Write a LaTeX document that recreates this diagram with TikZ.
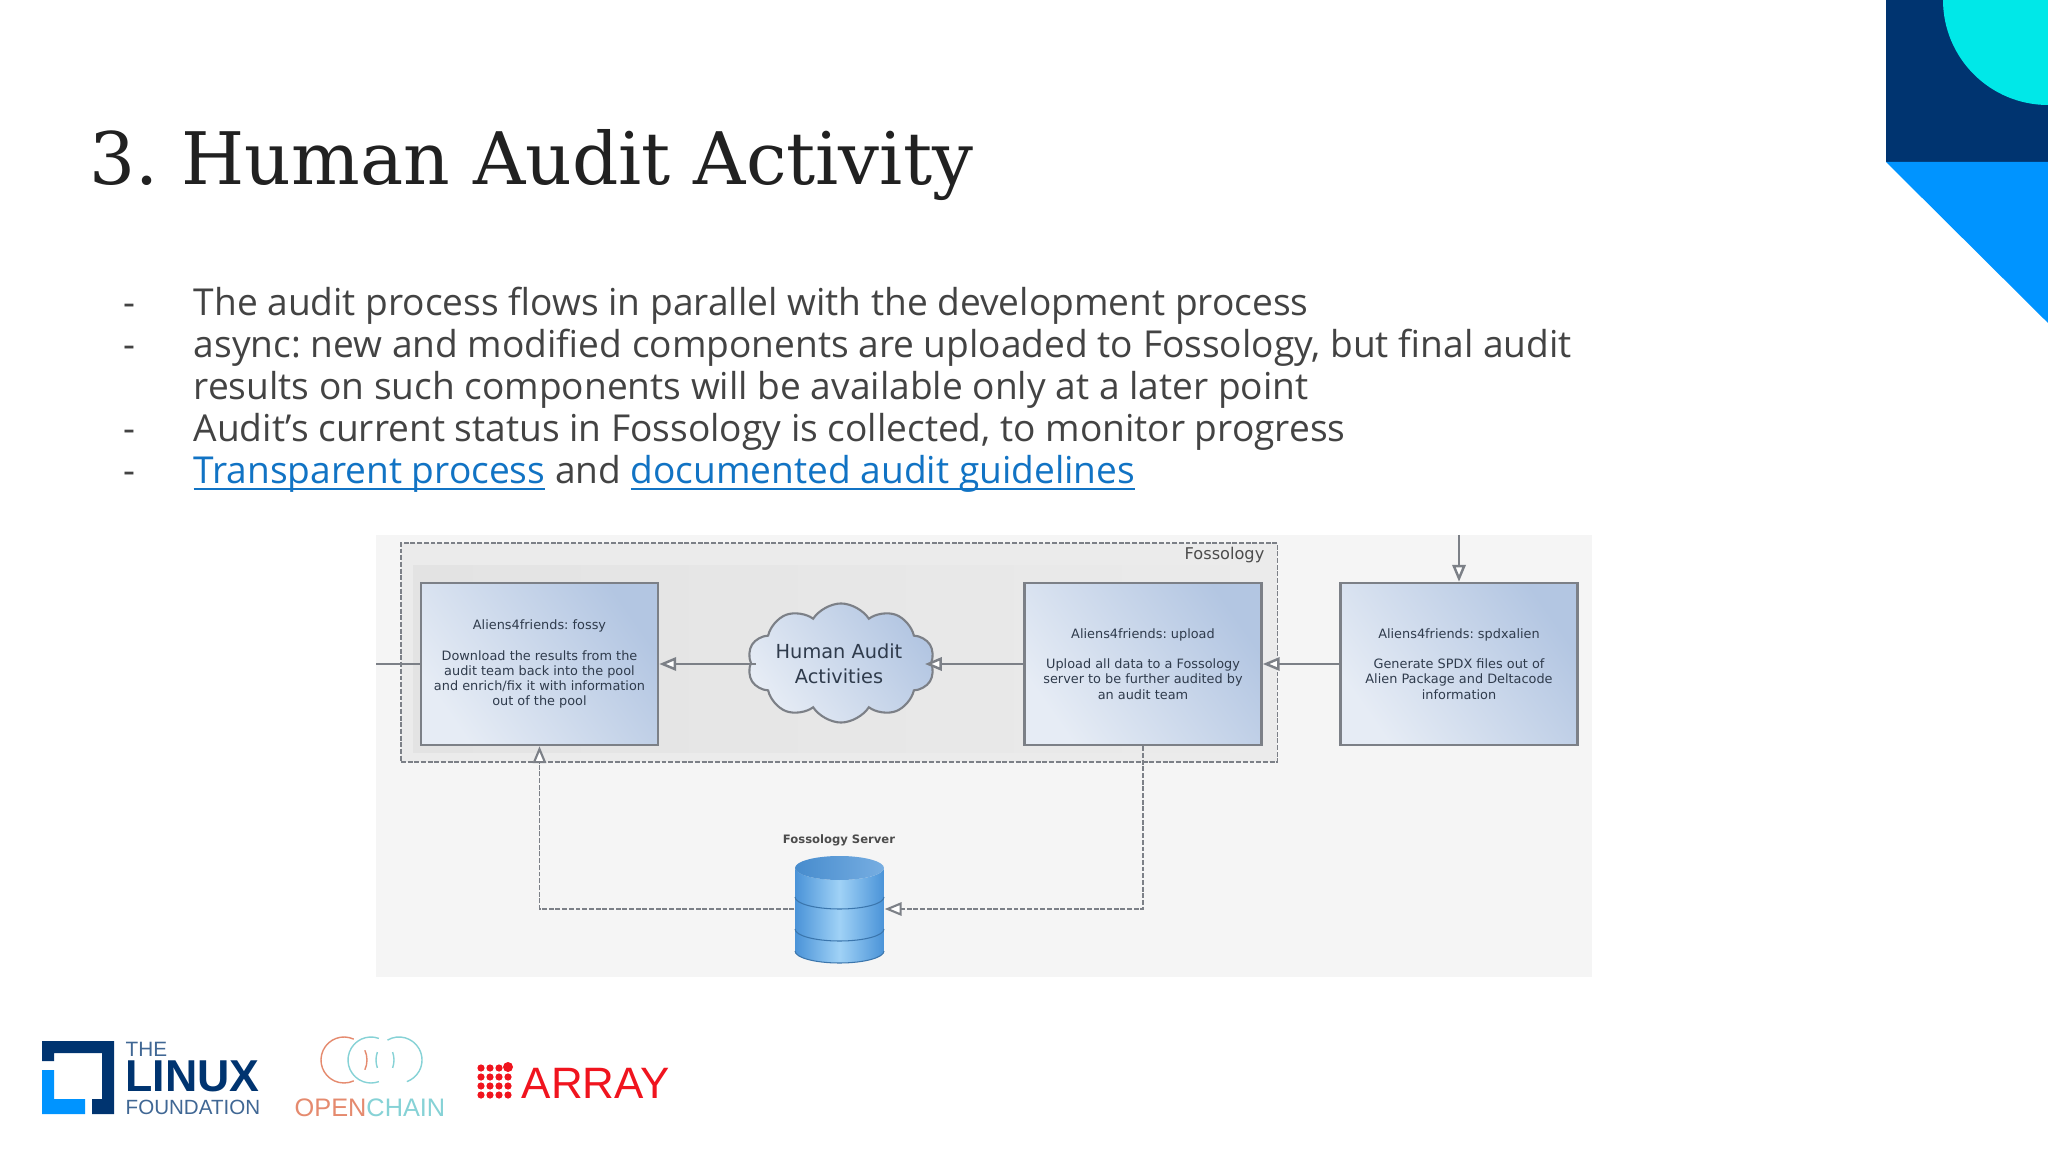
\documentclass[tikz,border=0pt]{standalone}
\usepackage{fontspec}
\setmainfont{Open Sans}
\newfontfamily\titlefont{DejaVu Serif}
\newfontfamily\boxfont{DejaVu Sans}
\newfontfamily\logofont{Liberation Sans}
\usetikzlibrary{arrows.meta, shapes.symbols}
\definecolor{navy}{HTML}{003470}
\definecolor{skyblue}{HTML}{0094FF}
\definecolor{cyanarc}{HTML}{00E8E8}
\definecolor{bodytext}{HTML}{434343}
\definecolor{linkblue}{HTML}{1173C4}
\definecolor{panelgray}{HTML}{F5F5F5}
\definecolor{edgegray}{HTML}{7C8087}
\definecolor{boxlight}{HTML}{E6ECF5}
\definecolor{boxdark}{HTML}{B3C6E2}
\definecolor{boxtext}{HTML}{2F3B4C}
\definecolor{dbdark}{HTML}{4A93D8}
\definecolor{dblight}{HTML}{A0D2F6}
\definecolor{openred}{HTML}{E58A6E}
\definecolor{chainteal}{HTML}{86D2D6}
\definecolor{arrayred}{HTML}{F0141E}
\newcommand{\linktext}[1]{\textcolor{linkblue}{\underline{\smash{#1}}}}
\tikzset{
  bodyline/.style={anchor=base west, inner sep=0pt, text=bodytext, font=\fontsize{10.55}{13}\selectfont},
  auditbox/.style={rectangle, draw=edgegray, line width=0.7pt, left color=boxlight, right color=boxdark, shading angle=125,
    minimum width=2.37cm, minimum height=1.62cm, inner sep=0pt, align=center, text=boxtext,
    font=\boxfont\fontsize{3.66}{4.3}\selectfont},
  flow/.style={draw=edgegray, line width=0.7pt, -{Triangle[open, fill=white, length=4.8pt, width=3.8pt]}},
  plainflow/.style={draw=edgegray, line width=0.7pt},
  dashflow/.style={draw=edgegray, line width=0.55pt, dash pattern=on 1.4pt off 0.5pt},
}
\begin{document}
\frenchspacing
\begin{tikzpicture}[x=0.01cm, y=-0.01cm]
    \useasboundingbox (0,0) rectangle (2048,1152);
    \fill[white] (0,0) rectangle (2048,1152);

    % Corner decoration
    \fill[navy] (1886,0) rectangle (2048,162);
    \fill[cyanarc] (1943,0) arc[start angle=180, end angle=90, radius=105] -- (2048,0) -- cycle;
    \fill[skyblue] (1886,162) -- (2048,162) -- (2048,323) -- cycle;

    % Title and bullets
    \node[anchor=base west, inner sep=0pt, text=black!87, font=\titlefont\fontsize{20.6}{24}\selectfont] (title) at (89,185) {3. Human Audit Activity};
    \node[bodyline] (dash1) at (123,316) {-};
    \node[bodyline] (dash2) at (123,358) {-};
    \node[bodyline] (dash3) at (123,442) {-};
    \node[bodyline] (dash4) at (123,484) {-};
    \node[bodyline] (line1) at (193,316) {The audit process flows in parallel with the development process};
    \node[bodyline] (line2) at (193,358) {async: new and modified components are uploaded to Fossology, but final audit};
    \node[bodyline] (line3) at (193,400) {results on such components will be available only at a later point};
    \node[bodyline] (line4) at (193,442) {Audit’s current status in Fossology is collected, to monitor progress};
    \node[bodyline] (line5) at (193,484) {\linktext{Transparent process} and \linktext{documented audit guidelines}};

    % Embedded diagram panel
    \fill[panelgray] (376,535) rectangle (1592,977);
    \node[rectangle, draw=edgegray, line width=0.55pt, dash pattern=on 1.4pt off 0.5pt, fill=black!8, anchor=north west,
      minimum width=8.76cm, minimum height=2.19cm] (fossology) at (400,542) {};
    \fill[left color=black!11, right color=black!8] (413,566) rectangle (1240,752);
    \node[anchor=east, inner sep=0pt, text=black!70, font=\boxfont\fontsize{4.6}{6}\selectfont] (fosslabel) at (1265,555) {Fossology};

    % Boxes
    \node[auditbox] (fossy) at (539.5,664) {Aliens4friends: fossy\\[4.6pt]Download the results from the\\audit team back into the pool\\and enrich/fix it with information\\out of the pool};
    \node[auditbox] (upload) at (1143,664) {Aliens4friends: upload\\[4.3pt]Upload all data to a Fossology\\server to be further audited by\\an audit team};
    \node[auditbox] (spdxalien) at (1459,664) {Aliens4friends: spdxalien\\[4.3pt]Generate SPDX files out of\\Alien Package and Deltacode\\information};
    \node[cloud, cloud puffs=10, cloud puff arc=115, cloud ignores aspect, draw=edgegray, line width=0.6pt, left color=boxlight, right color=boxdark,
      shading angle=125, minimum width=1.87cm, minimum height=1.19cm, inner sep=0pt] (audit) at (841,663) {};
    \node[inner sep=0pt, align=center, text=boxtext, font=\boxfont\fontsize{5.5}{7}\selectfont] (auditlabel) at (839,664) {Human Audit\\Activities};

    % Database
    \node[inner sep=0pt, text=black!70, font=\boxfont\bfseries\fontsize{3.3}{4}\selectfont] (serverlabel) at (839,840) {Fossology Server};
    \foreach \ya/\yb in {929/951, 897/929, 868/897} {
        \shade[left color=dbdark, right color=dbdark, middle color=dblight]
            (795,\ya) -- (795,\yb) arc[start angle=180, end angle=0, x radius=44.5, y radius=12] -- (884,\ya)
            arc[start angle=0, end angle=180, x radius=44.5, y radius=12] -- cycle;
        \draw[dbdark!80!black, line width=0.3pt] (795,\yb) arc[start angle=180, end angle=0, x radius=44.5, y radius=12];
    }
    \shade[left color=dbdark!95!black, right color=dbdark!75!white] (839.5,868) ellipse[x radius=44.5, y radius=12];
    \node[minimum width=0.89cm, minimum height=1.08cm, inner sep=0pt] (server) at (839.5,909) {};

    % Edges
    \coordinate (leftend) at (376,664);
    \coordinate (topend) at (1459,535);
    \coordinate (cloudin) at (925,664);
    \coordinate (cloudout) at (756,664);
    \draw[plainflow] (leftend) -- (fossy.west);
    \draw[flow] (cloudout) -- (fossy.east);
    \draw[flow] (upload.west) -- (cloudin);
    \draw[flow] (spdxalien.west) -- (upload.east);
    \draw[flow] (topend) -- (spdxalien.north);
    \draw[dashflow, -{Triangle[open, fill=white, length=4.8pt, width=3.8pt, line width=0.6pt]}] (upload.south) |- (server.east);
    \draw[dashflow, -{Triangle[open, fill=white, length=4.8pt, width=3.8pt, line width=0.6pt]}] (server.west) -| (fossy.south);

    % Linux Foundation logo
    \fill[navy] (42,1041) -- (114,1041) -- (114,1114) -- (92,1114) -- (92,1099) -- (102,1099) -- (102,1053) -- (54,1053) -- (54,1061) -- (42,1061) -- cycle;
    \fill[skyblue] (42,1070) -- (54,1070) -- (54,1099) -- (85,1099) -- (85,1114) -- (42,1114) -- cycle;
    \node[anchor=base west, inner sep=0pt, text=navy!75, font=\logofont\fontsize{5.9}{6}\selectfont] (lfthe) at (125,1056) {THE};
    \node[anchor=base west, inner sep=0pt, text=navy, font=\logofont\bfseries\fontsize{12.7}{13}\selectfont] (lflinux) at (125,1091) {LINUX};
    \node[anchor=base west, inner sep=0pt, text=navy!75, font=\logofont\fontsize{5.85}{6}\selectfont] (lffound) at (125,1114) {FOUNDATION};

    % OpenChain logo
    \draw[openred, line width=0.4pt] (344,1060) ++(-65:23) arc[start angle=-65, end angle=-295, radius=23];
    \draw[openred, line width=0.4pt] (344,1060) ++(-25:23) arc[start angle=-25, end angle=25, radius=23];
    \draw[chainteal, line width=0.4pt] (371,1060) ++(-70:23) arc[start angle=-70, end angle=-290, radius=23];
    \draw[chainteal, line width=0.4pt] (371,1060) ++(-20:23) arc[start angle=-20, end angle=20, radius=23];
    \draw[chainteal, line width=0.4pt] (399,1060) ++(-120:23) arc[start angle=-120, end angle=70, radius=23];
    \draw[chainteal, line width=0.4pt] (399,1060) ++(160:23) arc[start angle=160, end angle=200, radius=23];
    \node[anchor=base, inner sep=0pt, font=\logofont\fontsize{7.2}{8}\selectfont] (openchain) at (370,1116) {\textcolor{openred}{OPEN}\textcolor{chainteal}{CHAIN}};

    % Array logo
    \foreach \dx in {0,1,2,3} {
        \foreach \dy in {0,1,2,3} {
            \fill[arrayred] (481+\dx*9,1068+\dy*9) circle[radius=3.6];
        }
    }
    \fill[arrayred] (508,1067) circle[radius=5];
    \node[anchor=base west, inner sep=0pt, text=arrayred, font=\logofont\fontsize{12.5}{13}\selectfont] (array) at (521,1098) {ARRAY};
\end{tikzpicture}
\end{document}
